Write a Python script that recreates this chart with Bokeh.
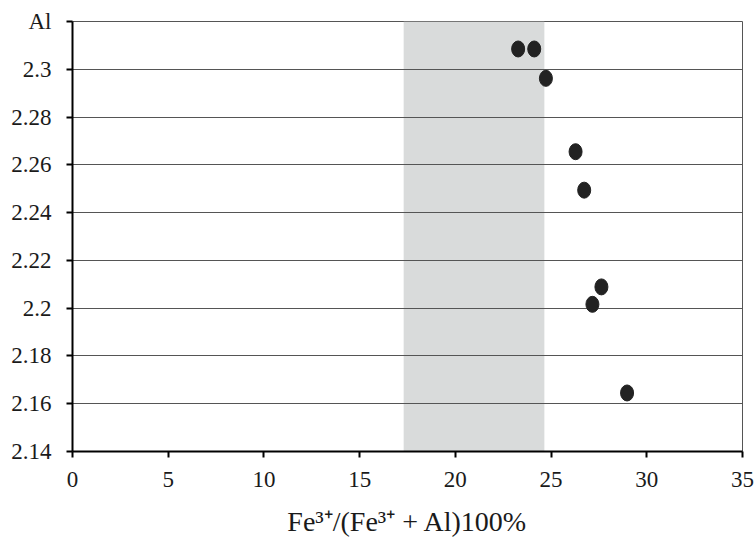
from bokeh.plotting import figure
from bokeh.models import FixedTicker, Range1d
from bokeh.embed import file_html
from bokeh.resources import INLINE

# ---- data ----
fe_ratio = [23.28, 24.12, 24.73, 26.28, 26.73, 27.63, 27.16, 28.97]
al_value = [2.3085, 2.3085, 2.2962, 2.2655, 2.2494, 2.2089, 2.2016, 2.1645]

shade_x = [17.3, 24.65]

x_ticks = [0, 5, 10, 15, 20, 25, 30, 35]
y_ticks = [2.14, 2.16, 2.18, 2.2, 2.22, 2.24, 2.26, 2.28, 2.3, 2.32]
y_tick_labels = ["2.14", "2.16", "2.18", "2.2", "2.22", "2.24", "2.26", "2.28", "2.3", "Al"]

x_label = "Fe\u00b3\u207a/(Fe\u00b3\u207a + Al)100%"

FONT = "'Liberation Serif', 'Times New Roman', serif"

p = figure(
    frame_width=670, frame_height=430,
    min_border_left=72, min_border_right=12, min_border_top=21, min_border_bottom=10,
    x_range=Range1d(x_ticks[0], x_ticks[-1]),
    y_range=Range1d(y_ticks[0], y_ticks[-1]),
    output_backend="svg", toolbar_location=None,
)
p.background_fill_color = "white"
p.border_fill_color = "white"
p.outline_line_color = "#555555"
p.outline_line_width = 1

# shaded band (under grid)
p.quad(left=[shade_x[0]], right=[shade_x[1]], bottom=[y_ticks[0]], top=[y_ticks[-1]],
       fill_color="#d9dbdb", line_color=None, level="image")

# points
p.ellipse(x=fe_ratio, y=al_value, width=13, height=16,
          width_units="screen", height_units="screen",
          fill_color="#222222", line_color="#222222")

# grid
p.xgrid.visible = False
p.ygrid.ticker = FixedTicker(ticks=y_ticks)
p.ygrid.grid_line_color = "#555555"
p.ygrid.grid_line_width = 1

# axes
for ax in (p.xaxis[0], p.yaxis[0]):
    ax.axis_line_color = "black"
    ax.axis_line_width = 2
    ax.major_tick_line_color = "black"
    ax.major_tick_line_width = 2
    ax.major_tick_out = 6
    ax.major_tick_in = 0
    ax.minor_tick_line_color = None
    ax.major_label_text_font = FONT
    ax.major_label_text_font_size = "23px"
    ax.major_label_text_color = "#1a1a1a"

p.xaxis[0].ticker = FixedTicker(ticks=x_ticks)
p.xaxis[0].major_label_standoff = 14
p.xaxis[0].axis_label = x_label
p.xaxis[0].axis_label_text_font = FONT
p.xaxis[0].axis_label_text_font_size = "28px"
p.xaxis[0].axis_label_text_font_style = "normal"
p.xaxis[0].axis_label_text_color = "#1a1a1a"
p.xaxis[0].axis_label_standoff = 16

p.yaxis[0].ticker = FixedTicker(ticks=y_ticks)
p.yaxis[0].major_label_overrides = {t: l for t, l in zip(y_ticks, y_tick_labels)}
p.yaxis[0].major_label_standoff = 15

open("out.html", "w").write(file_html(p, INLINE))
